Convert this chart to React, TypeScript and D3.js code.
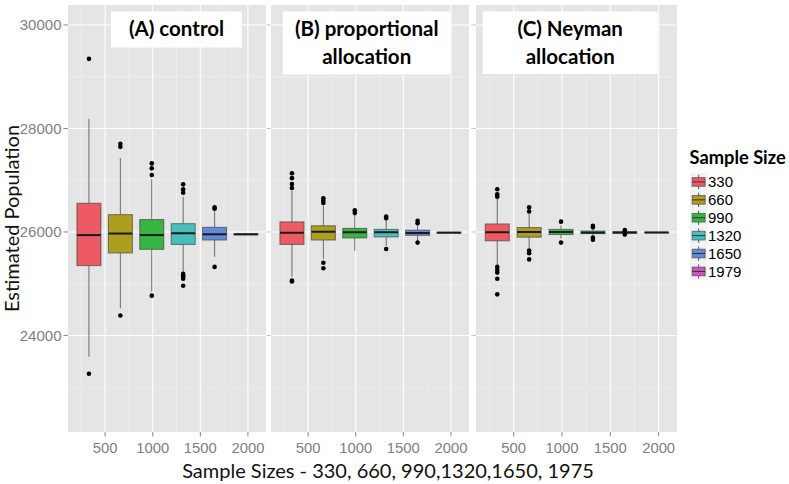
import React from "react";
import * as d3 from "d3";

// ---------- data ----------
const sampleSizes = [330, 660, 990, 1320, 1650, 1979];
const legendLabels = ["330", "660", "990", "1320", "1650", "1979"];
const xTicks = [500, 1000, 1500, 2000];
const xMinor = [250, 750, 1250, 1750];
const yTicks = [24000, 26000, 28000, 30000];
const yMinor = [23000, 25000, 27000, 29000];
const panelTitles = [["(A) control"], ["(B) proportional", "allocation"], ["(C) Neyman", "allocation"]];
const xTitle = "Sample Sizes - 330, 660, 990,1320,1650, 1975";
const yTitle = "Estimated Population";
const legendTitle = "Sample Size";

// (A) control
const controlQ1 = [25350, 25595, 25665, 25760, 25845, 25947];
const controlMedian = [25940, 25970, 25940, 25975, 25955, 25955];
const controlQ3 = [26555, 26335, 26240, 26160, 26090, 25963];
const controlLower = [23590, 24525, 24850, 25200, 25520, 25947];
const controlUpper = [28185, 27430, 27020, 26680, 26400, 25963];
const controlOutliers = [
  [29345, 23260],
  [27705, 27645, 24385],
  [27325, 27230, 27100, 24770],
  [26920, 26825, 26760, 25190, 25160, 25130, 25095, 24960],
  [26475, 26450, 25325],
  [],
];

// (B) proportional allocation
const propQ1 = [25760, 25845, 25885, 25905, 25935, 25980];
const propMedian = [25985, 26005, 25995, 25995, 25980, 25987];
const propQ3 = [26195, 26120, 26070, 26050, 26035, 25994];
const propLower = [25135, 25480, 25635, 25730, 25830, 25980];
const propUpper = [26800, 26510, 26330, 26240, 26140, 25994];
const propOutliers = [
  [27135, 27040, 26925, 26850, 25060, 25045],
  [26650, 26605, 26560, 25405, 25300],
  [26420, 26365],
  [26300, 26265, 25670],
  [26215, 26170, 25795],
  [],
];

// (C) Neyman allocation
const neymanQ1 = [25830, 25900, 25950, 25968, 25975, 25984];
const neymanMedian = [25995, 26000, 26000, 25988, 25990, 25990];
const neymanQ3 = [26155, 26085, 26050, 26018, 26005, 25996];
const neymanLower = [25350, 25680, 25870, 25930, 25960, 25984];
const neymanUpper = [26650, 26350, 26130, 26060, 26020, 25996];
const neymanOutliers = [
  [26825, 26730, 26680, 25325, 25265, 25215, 25095, 24795],
  [26475, 26395, 25640, 25590, 25470],
  [26200, 25795],
  [26120, 26090, 25890, 25850],
  [26035, 25950],
  [],
];

const fills = ["#EE5A64", "#AE9E20", "#36B444", "#48BFBF", "#6489D8", "#CC50C2"];

const panelsData = [
  { q1: controlQ1, med: controlMedian, q3: controlQ3, lo: controlLower, hi: controlUpper, out: controlOutliers },
  { q1: propQ1, med: propMedian, q3: propQ3, lo: propLower, hi: propUpper, out: propOutliers },
  { q1: neymanQ1, med: neymanMedian, q3: neymanQ3, lo: neymanLower, hi: neymanUpper, out: neymanOutliers },
];

// ---------- layout ----------
const W = 789;
const H = 484;
const panelLefts = [68, 271, 476];
const panelWidths = [198, 198, 201];
const panelTop = 5;
const panelBottom = 432;
const titleBoxes = [
  { x: 43, w: 131, h: 36 },
  { x: 11.7, w: 168, h: 63 },
  { x: 6.7, w: 175, h: 62.5 },
];
const titleBoxTop = 11.5;
const boxWidthPx = 24;

const TITLE_FONT = "Lato, 'Open Sans', sans-serif";
const AXIS_FONT = "'Liberation Sans', Arial, sans-serif";

const yScale = d3.scaleLinear().domain([22135, 30386]).range([panelBottom, panelTop]);

function Panel({ idx }: { idx: number }) {
  const left = panelLefts[idx];
  const w = panelWidths[idx];
  const x = d3.scaleLinear().domain([110, 2190]).range([0, w]);
  const d = panelsData[idx];
  const tb = titleBoxes[idx];
  const lines = panelTitles[idx];
  return (
    <g transform={`translate(${left},0)`}>
      <rect x={0} y={panelTop} width={w} height={panelBottom - panelTop} fill="#E5E5E5" />
      {yMinor.map((v) => (
        <line key={"ym" + v} x1={0} x2={w} y1={yScale(v)} y2={yScale(v)} stroke="#F2F2F2" strokeWidth={0.6} />
      ))}
      {xMinor.map((v) => (
        <line key={"xm" + v} x1={x(v)} x2={x(v)} y1={panelTop} y2={panelBottom} stroke="#F2F2F2" strokeWidth={0.6} />
      ))}
      {yTicks.map((v) => (
        <line key={"yM" + v} x1={0} x2={w} y1={yScale(v)} y2={yScale(v)} stroke="#FFFFFF" strokeWidth={1.1} />
      ))}
      {xTicks.map((v) => (
        <line key={"xM" + v} x1={x(v)} x2={x(v)} y1={panelTop} y2={panelBottom} stroke="#FFFFFF" strokeWidth={1.1} />
      ))}
      {/* y ticks */}
      {yTicks.map((v) => (
        <line key={"yt" + v} x1={-4.5} x2={0} y1={yScale(v)} y2={yScale(v)} stroke={idx === 0 ? "#8A8A8A" : "#C4C4C4"} strokeWidth={1} />
      ))}
      {/* x ticks + labels */}
      {xTicks.map((v) => (
        <g key={"xt" + v}>
          <line x1={x(v)} x2={x(v)} y1={panelBottom} y2={panelBottom + 4.5} stroke="#8A8A8A" strokeWidth={1} />
          <text x={x(v)} y={453} textAnchor="middle" fontFamily={AXIS_FONT} fontSize={14.8} fill="#808080">
            {v}
          </text>
        </g>
      ))}
      {/* title box */}
      <rect x={tb.x} y={titleBoxTop} width={tb.w} height={tb.h} fill="#FFFFFF" />
      {lines.map((t, i) => (
        <text
          key={t}
          x={tb.x + tb.w / 2}
          y={35.5 + i * 28}
          textAnchor="middle"
          fontFamily={TITLE_FONT}
          fontWeight={700}
          fontSize={20.5}
          fill="#000"
        >
          {t}
        </text>
      ))}
      {/* boxplots */}
      {sampleSizes.map((s, i) => {
        const cx = x(s);
        const bx = cx - boxWidthPx / 2;
        const yq3 = yScale(d.q3[i]);
        const yq1 = yScale(d.q1[i]);
        return (
          <g key={"b" + s}>
            <line x1={cx} x2={cx} y1={yScale(d.hi[i])} y2={yq3} stroke="#555" strokeOpacity={0.85} strokeWidth={1} />
            <line x1={cx} x2={cx} y1={yq1} y2={yScale(d.lo[i])} stroke="#555" strokeOpacity={0.85} strokeWidth={1} />
            <rect
              x={bx}
              y={yq3}
              width={boxWidthPx}
              height={Math.max(0.01, yq1 - yq3)}
              fill={fills[i]}
              stroke="#4a4a4a"
              strokeOpacity={0.75}
              strokeWidth={1}
            />
            <line x1={bx} x2={bx + boxWidthPx} y1={yScale(d.med[i])} y2={yScale(d.med[i])} stroke="#1a1a1a" strokeWidth={2} />
            {d.out[i].map((o, k) => (
              <circle key={k} cx={cx} cy={yScale(o)} r={2.3} fill="#000" />
            ))}
          </g>
        );
      })}
    </g>
  );
}

export default function App() {
  const keyTop = 173;
  const keyStep = 17.9;
  const keyX = 690;
  const keySize = 17.3;
  return (
    <div style={{ position: "absolute", left: 0, top: 0, width: W, height: H, background: "#fff" }}>
      <svg width={W} height={H} style={{ display: "block" }}>
        <rect x={0} y={0} width={W} height={H} fill="#fff" />
        {[0, 1, 2].map((i) => (
          <Panel key={i} idx={i} />
        ))}
        {/* y axis labels */}
        {yTicks.map((v) => (
          <text key={"yl" + v} x={61.5} y={yScale(v) + 5.4} textAnchor="end" fontFamily={AXIS_FONT} fontSize={15} fill="#808080">
            {v}
          </text>
        ))}
        {/* axis titles */}
        <text x={388} y={477.5} textAnchor="middle" fontFamily={TITLE_FONT} fontSize={20} fill="#111">
          {xTitle}
        </text>
        <text
          transform={`translate(18.5,${(panelTop + panelBottom) / 2}) rotate(-90)`}
          textAnchor="middle"
          fontFamily={TITLE_FONT}
          fontSize={20}
          fill="#111"
        >
          {yTitle}
        </text>
        {/* legend */}
        <text x={689.5} y={163.5} fontFamily={TITLE_FONT} fontWeight={700} fontSize={18.3} fill="#000">
          {legendTitle}
        </text>
        {legendLabels.map((lab, i) => {
          const ty = keyTop + i * keyStep;
          const cx = keyX + keySize / 2;
          const bh = keySize * 0.5;
          const bw = keySize * 0.75;
          return (
            <g key={lab}>
              <rect x={keyX} y={ty} width={keySize} height={keyStep} fill="#F2F2F2" />
              <line x1={cx} x2={cx} y1={ty + keyStep * 0.1} y2={ty + keyStep * 0.9} stroke="#555" strokeWidth={1} />
              <rect x={cx - bw / 2} y={ty + keyStep / 2 - bh / 2} width={bw} height={bh} fill={fills[i]} stroke="#4a4a4a" strokeOpacity={0.7} strokeWidth={1} />
              <line x1={cx - bw / 2} x2={cx + bw / 2} y1={ty + keyStep / 2} y2={ty + keyStep / 2} stroke="#333" strokeWidth={1} />
              <text x={708} y={ty + keyStep / 2 + 5.4} fontFamily={AXIS_FONT} fontSize={15} fill="#000">
                {lab}
              </text>
            </g>
          );
        })}
      </svg>
    </div>
  );
}
